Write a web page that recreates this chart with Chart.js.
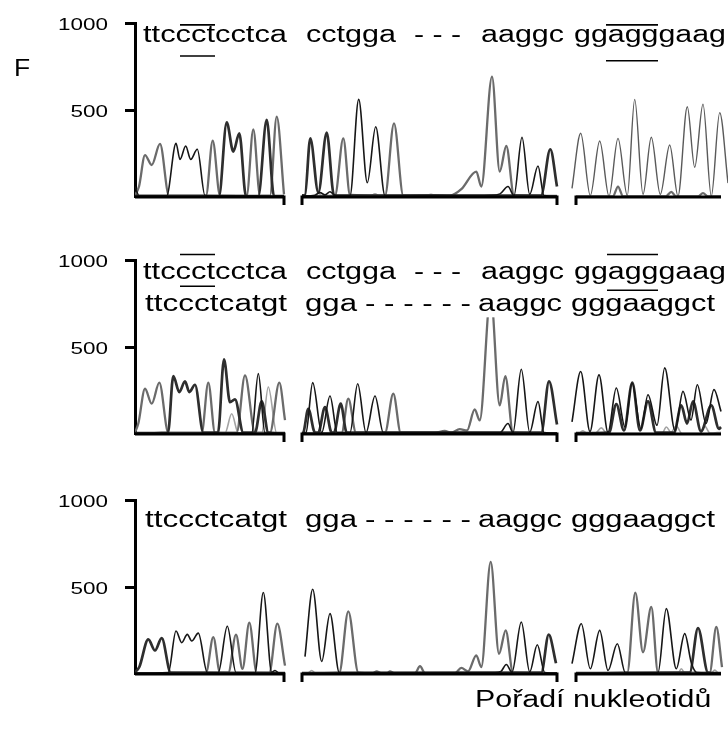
<!DOCTYPE html>
<html>
<head>
<meta charset="utf-8">
<script src="https://cdn.jsdelivr.net/npm/chart.js@4.4.0/dist/chart.umd.min.js"></script>
<style>
  body { margin: 0; background: #fff; }
  #page { position: relative; width: 728px; height: 747px; overflow: hidden; background: #fff;
          font-family: "Liberation Sans", Arial, sans-serif; }
  .panel { position: absolute; left: 0; width: 728px; height: 230px; }
  .label { position: absolute; line-height: 1; color: #000; transform-origin: left top; white-space: nowrap; font-size: 23px; }
</style>
</head>
<body>
<div id="page">
  <div class="panel" style="top:0px"><canvas id="chart1"></canvas></div>
  <div class="panel" style="top:237px"><canvas id="chart2"></canvas></div>
  <div class="panel" style="top:477px"><canvas id="chart3"></canvas></div>
  <div class="label" style="left:14px;top:57px;transform:scaleX(1.15)">F</div>
  <div class="label" style="left:475px;top:688px;transform:scaleX(1.32)">Pořadí nukleotidů</div>
</div>
<script>
// y axis ticks (fluorescence)
const yTicks = [500, 1000];

// the three pieces of the x axis (scan position), and which ends get a tick
const axisSegments = [[0, 149], [167, 422], [441, 586]];
const axisEndTicks = [[false, true], [true, true], [true, false]];

// sequences written over the traces
const seqTop = ['ttccctcctca', 'cctgga', '- - -', 'aaggc', 'ggagggaag'];
const seqBottom = ['ttccctcatgt', 'gga', '- - - - - -', 'aaggc', 'gggaaggct'];

// traces: [position, fluorescence], null splits the axis pieces
const p1Black = [
  [0, 60], [4, 8], [31.7, 8], [41, 308], [45, 216], [50.7, 293], [55.7, 216], [62.3, 274], [70, 8], [149, 6],
  null,
  [167, 6], [180, 10], [185, 25], [190, 12], [195, 30], [200, 10], [215, 8], [223.7, 561], [232.3, 82], [240.7, 404], [250, 8],
  [330, 8], [355, 10], [365, 18], [373, 60], [379, 8], [387, 343], [394.7, 15], [403, 178], [409, 8], [422, 5]
];
const p1Dark = [
  [0, 5], [84, 5], [91.7, 429], [98.3, 261], [104.3, 366], [111, 5], [123.3, 5], [131.7, 443], [139, 5], [149, 5],
  null,
  [167, 10], [170, 12], [175.3, 337], [183.3, 25], [191.7, 370], [199, 10], [406, 8], [415.3, 274], [422, 60]
];
const p1Mid = [
  [0, 10], [4, 60], [10, 241], [16.7, 184], [25, 305], [34, 8], [71, 8], [77.7, 324], [85, 8], [111.7, 8], [118.3, 389], [125, 8],
  [135, 8], [141.7, 462], [149, 15],
  null,
  [167, 5], [200, 8], [208.3, 337], [215, 12], [250, 8], [259, 423], [268.3, 8], [300, 10], [315, 8], [326.3, 45], [341.3, 146],
  [346.3, 60], [357, 692], [364.7, 146], [371.3, 293], [379, 10], [422, 6],
  null,
  [441, 4], [478, 4], [483, 60], [488, 4], [531, 4], [536.3, 30], [541, 4], [563, 4], [568, 22], [573, 4], [586, 4]
];
const p1Light = [
  null,
  [167, 4], [178, 4], [183, 22], [188, 4], [235, 4], [240, 18], [245, 4], [290, 4], [296, 15], [302, 4], [422, 4]
];
const p1Thin = [
  null, null,
  [437, 50], [445.7, 366], [455.3, 8], [464.7, 322], [474, 5], [483, 337], [492.3, 8], [499.7, 561], [508, 15], [516.3, 343],
  [525.3, 15], [534.7, 299], [543, 5], [552.3, 519], [559.7, 171], [568, 534], [576.3, 5], [584.7, 485], [593, 80]
];

const p2Black = [
  [0, 3], [116.7, 5], [123.3, 347], [130, 5], [150, 3],
  null,
  [167, 5], [171, 8], [177.7, 295], [186.7, 8], [195, 218], [202.3, 8], [215, 8], [222.7, 289], [231, 8], [240, 218], [248.3, 8],
  [365, 8], [373, 60], [378, 8], [386.3, 372], [394.7, 10], [403, 187], [409, 8], [422, 5],
  null,
  [437, 70], [445.7, 359], [455, 15], [464, 340], [473, 10], [481.3, 264], [490, 40], [497, 292], [506, 30], [513, 226], [522, 50],
  [529.7, 380], [540, 20], [548, 245], [556, 80], [562.3, 283], [571, 60], [579, 255], [586, 130]
];
const p2Dark = [
  [0, 5], [33, 8], [38.3, 333], [44.3, 241], [50, 303], [54.3, 241], [60, 283], [68.3, 8], [83, 8], [89, 429], [95, 183], [100, 199],
  [108.3, 8], [120, 8], [126.7, 187], [133.3, 8], [150, 5],
  null,
  [167, 5], [168.3, 8], [173.3, 145], [180, 8], [183.3, 8], [190, 155], [196.7, 8], [199, 8], [205.7, 174], [211.7, 8],
  [406.3, 8], [414, 303], [422, 55],
  null,
  [441, 5], [474, 8], [481.3, 172], [489, 20], [497.3, 295], [505, 20], [513, 187], [521, 8], [539, 8], [546.3, 164], [552, 60],
  [558, 187], [566, 15], [576.3, 164], [584, 30], [586, 40]
];
const p2Mid = [
  [0, 10], [3.3, 60], [10, 260], [16.7, 174], [24.3, 295], [33.3, 8], [66.7, 8], [73.3, 295], [80, 8], [101.7, 8], [110, 337],
  [120, 8], [135, 8], [144.3, 295], [150, 80],
  null,
  [167, 5], [206.7, 8], [213.3, 203], [221, 8], [250, 8], [258.3, 232], [265.7, 8], [300, 8], [309.7, 18], [316, 8], [324.7, 28],
  [332, 20], [339.7, 141], [344.7, 78], [355.7, 800], [364.7, 164], [370.3, 333], [378, 8], [422, 5]
];
const p2Light = [
  [0, 3], [90, 5], [96.7, 116], [103.3, 5], [126.7, 5], [133.3, 270], [141.7, 5], [150, 3],
  null, null,
  [441, 3], [444, 5], [448, 18], [452, 3], [460, 3], [466.3, 35], [472, 3], [527, 3], [531.3, 40], [536, 10], [541.3, 45],
  [547, 3], [565, 3], [569.7, 45], [575, 5], [586, 10]
];

const p3Black = [
  [0, 5], [33.3, 8], [41, 247], [46.7, 180], [52.3, 228], [56.7, 190], [63.3, 235], [72.3, 8], [83.3, 8], [92.3, 274], [101, 8],
  [120, 8], [128.3, 468], [136.7, 10], [140, 20], [144, 5], [150, 5],
  null,
  [170, 100], [177.7, 487], [186.7, 72], [195, 347], [204.3, 8], [360, 8], [366, 15], [371.3, 55], [377, 10], [386.3, 299],
  [394.7, 12], [402.3, 168], [409.7, 8], [422, 5],
  null,
  [437, 60], [446.3, 289], [455.3, 30], [464.7, 251], [473, 20], [482.3, 174], [490.3, 8], [523, 8], [531.3, 376], [541.3, 30],
  [549.7, 232], [556.3, 65], [562, 8], [586, 5]
];
const p3Dark = [
  [0, 10], [4.3, 40], [13.3, 199], [20, 135], [26.7, 206], [35.7, 8], [150, 5],
  null,
  [167, 5], [406.3, 8], [413.7, 226], [421, 62],
  null,
  [441, 5], [554.7, 8], [563, 264], [573, 8], [586, 5]
];
const p3Mid = [
  [0, 5], [71, 8], [78.3, 212], [85, 8], [93.3, 8], [101, 226], [107.5, 30], [114.3, 295], [121.7, 8], [134.3, 8], [142.3, 289], [150, 48],
  null,
  [167, 5], [204.3, 8], [213.3, 360], [223.3, 8], [238, 5], [241.7, 15], [246, 5], [252, 5], [255, 15], [259, 5], [280, 5],
  [285, 45], [290, 5], [320, 5], [326.3, 35], [333, 15], [341.3, 107], [346.3, 40], [355.7, 644], [364, 116], [370.7, 251],
  [378, 8], [422, 5],
  null,
  [441, 5], [492.3, 8], [500.3, 468], [508, 125], [516.3, 385], [523, 8], [574.7, 8], [581.3, 270], [587, 40]
];
const p3Light = [
  null,
  [167, 3], [172, 3], [176.7, 20], [181, 3], [422, 3],
  null,
  [441, 3], [543, 3], [546.3, 30], [550, 3], [576, 3], [579.7, 22], [584, 3], [586, 3]
];

// where the words sit along the axis
const seqTopX = [[8, 152], [171, 261], [279, 326], [346, 429], [439, 591]];
const seqBottomX = [[10, 152], [170, 222], [230, 336], [343, 427], [436, 580]];

// line styles of the dye channels
const traceStyles = {
  black: { color: '#161616', width: 1.6 },
  dark: { color: '#2e2e2e', width: 2.7 },
  thin: { color: '#5a5a5a', width: 1.4 },
  mid: { color: '#6b6b6b', width: 2.3 },
  light: { color: '#a3a3a3', width: 1.6 }
};

function splitTrace(points) {
  const parts = [[]];
  points.forEach(p => {
    if (p === null) parts.push([]);
    else parts[parts.length - 1].push({ x: p[0], y: p[1] });
  });
  return parts.filter(part => part.length > 1);
}

function axisDatasets() {
  return axisSegments.map((seg, i) => {
    const pts = [];
    if (axisEndTicks[i][0]) pts.push({ x: seg[0], y: -46 });
    pts.push({ x: seg[0], y: 0 }, { x: seg[1], y: 0 });
    if (axisEndTicks[i][1]) pts.push({ x: seg[1], y: -46 });
    return {
      data: pts, borderColor: '#000', borderWidth: 3, pointRadius: 0, tension: 0,
      borderJoinStyle: 'miter', borderCapStyle: 'butt', clip: false
    };
  });
}

function buildPanel(id, traces, rows, marks) {
  const datasets = axisDatasets();
  traces.forEach(t => {
    const st = traceStyles[t.style];
    splitTrace(t.data).forEach(part => {
      datasets.push({
        data: part, borderColor: st.color, borderWidth: st.width, pointRadius: 0,
        cubicInterpolationMode: 'monotone', fill: false
      });
    });
  });

  // sequence text, over/underlines and the y tick labels
  const sequencePlugin = {
    id: 'sequence',
    afterDatasetsDraw(chart) {
      const { ctx, scales: { x, y } } = chart;
      ctx.save();
      ctx.font = '23px "Liberation Sans", Arial, sans-serif';
      ctx.textBaseline = 'alphabetic';
      ctx.textAlign = 'left';
      rows.forEach(row => {
        const base = y.getPixelForValue(row.y);
        row.words.forEach((w, i) => {
          const left = x.getPixelForValue(row.x[i][0]);
          const right = x.getPixelForValue(row.x[i][1]);
          ctx.fillStyle = '#fff';
          ctx.fillRect(left, base - 20, right - left, 26);
        });
      });
      ctx.fillStyle = '#000';
      rows.forEach(row => {
        const base = y.getPixelForValue(row.y);
        row.words.forEach((w, i) => {
          const left = x.getPixelForValue(row.x[i][0]);
          const right = x.getPixelForValue(row.x[i][1]);
          const tw = ctx.measureText(w).width;
          ctx.save();
          ctx.translate(left, base);
          ctx.scale((right - left) / tw, 1);
          ctx.fillText(w, 0, 0);
          ctx.restore();
        });
      });
      ctx.strokeStyle = '#000';
      ctx.lineWidth = 1.6;
      marks.forEach(m => {
        const py = y.getPixelForValue(m[2]);
        ctx.beginPath();
        ctx.moveTo(x.getPixelForValue(m[0]), py);
        ctx.lineTo(x.getPixelForValue(m[1]), py);
        ctx.stroke();
      });
      ctx.font = '17px "Liberation Sans", Arial, sans-serif';
      y.ticks.forEach(t => {
        const s = String(t.value);
        const tw = ctx.measureText(s).width * 1.32;
        ctx.save();
        ctx.translate(108 - tw, y.getPixelForValue(t.value) + 6.5);
        ctx.scale(1.32, 1);
        ctx.fillText(s, 0, 0);
        ctx.restore();
      });
      ctx.restore();
    }
  };

  new Chart(document.getElementById(id), {
    type: 'line',
    data: { datasets: datasets },
    options: {
      responsive: true,
      maintainAspectRatio: false,
      animation: false,
      layout: { padding: { top: 23, bottom: 33, left: 0, right: 0 } },
      plugins: { legend: { display: false }, tooltip: { enabled: false } },
      scales: {
        x: { type: 'linear', min: 0, max: 593, display: false },
        y: {
          min: 0,
          max: 1000,
          afterBuildTicks: s => { s.ticks = yTicks.map(v => ({ value: v })); },
          afterFit: s => { s.width = 135; },
          ticks: { display: false },
          grid: { drawOnChartArea: false, drawTicks: true, tickLength: 10, tickWidth: 3, tickColor: '#000' },
          border: { display: true, color: '#000', width: 3 }
        }
      }
    },
    plugins: [sequencePlugin]
  });
}

buildPanel('chart1',
  [{ data: p1Black, style: 'black' }, { data: p1Dark, style: 'dark' }, { data: p1Thin, style: 'thin' },
   { data: p1Mid, style: 'mid' }, { data: p1Light, style: 'light' }],
  [{ words: seqTop, x: seqTopX, y: 891 }],
  [[45, 80, 989], [45, 80, 810], [471, 523, 989], [471, 523, 783]]);

buildPanel('chart2',
  [{ data: p2Black, style: 'black' }, { data: p2Dark, style: 'dark' },
   { data: p2Mid, style: 'mid' }, { data: p2Light, style: 'light' }],
  [{ words: seqTop, x: seqTopX, y: 888 }, { words: seqBottom, x: seqBottomX, y: 705 }],
  [[45, 80, 1032], [45, 80, 849], [472, 523, 1032], [472, 523, 826]]);

buildPanel('chart3',
  [{ data: p3Black, style: 'black' }, { data: p3Dark, style: 'dark' },
   { data: p3Mid, style: 'mid' }, { data: p3Light, style: 'light' }],
  [{ words: seqBottom, x: seqBottomX, y: 847 }],
  []);
</script>
</body>
</html>
